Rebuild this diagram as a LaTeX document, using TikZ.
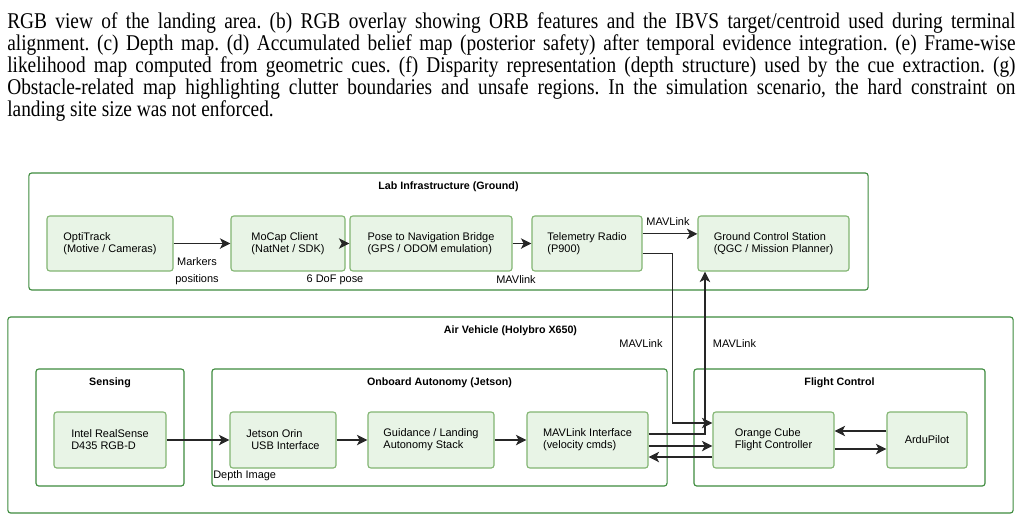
\documentclass[tikz,border=0pt]{standalone}
\usepackage{fontspec}
\setmainfont{Liberation Sans}
\newfontfamily\captionserif[FakeStretch=0.86]{Liberation Serif}
\usetikzlibrary{arrows.meta, positioning}
\definecolor{boxfill}{HTML}{E8F4E6}
\definecolor{boxline}{HTML}{82B572}
\definecolor{groupline}{HTML}{3D8B3D}
\definecolor{wire}{HTML}{262626}

\tikzset{
  block/.style={draw=boxline, fill=boxfill, rounded corners=2pt, align=left, inner sep=2pt, line width=0.8pt},
  group/.style={draw=groupline, rounded corners=2pt, inner sep=0pt, line width=0.8pt},
  grouptitle/.style={font=\bfseries\fontsize{7.6}{9}\selectfont, inner sep=0pt},
  lbl/.style={inner sep=0pt},
  link/.style={-{Stealth[length=7.5pt,width=7.5pt,inset=2pt]}, draw=wire, line width=0.8pt},
}

\begin{document}
\frenchspacing
\begin{tikzpicture}[x=0.025cm, y=-0.025cm, font=\fontsize{7.8}{8.6}\selectfont]
  \useasboundingbox (0,0) rectangle (1020,521);

  % caption text above the figure
  \node[anchor=north west, inner sep=0pt, text width=25.2cm, align=justify,
        font=\captionserif\fontsize{16}{15.65}\selectfont] (caption) at (7,12)
  {RGB view of the landing area. (b) RGB overlay showing ORB features and the IBVS target/centroid used during terminal\linebreak
   alignment. (c) Depth map. (d) Accumulated belief map (posterior safety) after temporal evidence integration. (e) Frame-wise\linebreak
   likelihood map computed from geometric cues. (f) Disparity representation (depth structure) used by the cue extraction. (g)\linebreak
   Obstacle-related map highlighting clutter boundaries and unsafe regions. In the simulation scenario, the hard constraint on\linebreak
   landing site size was not enforced.};

  % groups
  \node[group, minimum width=20.975cm, minimum height=2.925cm] (lab) at (448.5,231.5) {};
  \node[group, minimum width=25.125cm, minimum height=4.9cm] (air) at (510.5,415) {};
  \node[group, minimum width=3.7cm, minimum height=2.925cm] (sensing) at (110,427.5) {};
  \node[group, minimum width=11.375cm, minimum height=2.925cm] (onboard) at (439.5,427.5) {};
  \node[group, minimum width=7.275cm, minimum height=2.925cm] (flight) at (839.5,427.5) {};
  \node[grouptitle] at ([yshift=-0.35cm]lab.north) {Lab Infrastructure (Ground)};
  \node[grouptitle] at ([yshift=-0.35cm]air.north) {Air Vehicle (Holybro X650)};
  \node[grouptitle] at ([yshift=-0.35cm]sensing.north) {Sensing};
  \node[grouptitle] at ([yshift=-0.35cm]onboard.north) {Onboard Autonomy (Jetson)};
  \node[grouptitle] at ([yshift=-0.35cm]flight.north) {Flight Control};

  % ground row
  \node[block, minimum width=3.15cm, minimum height=1.375cm] (opti) at (110,243.5) {OptiTrack\\(Motive / Cameras)};
  \node[block, minimum width=2.85cm, minimum height=1.375cm] (mocap) at (288,243.5) {MoCap Client\\(NatNet / SDK)};
  \node[block, minimum width=4.05cm, minimum height=1.375cm] (bridge) at (431,243.5) {Pose to Navigation Bridge\\(GPS / ODOM emulation)};
  \node[block, minimum width=2.75cm, minimum height=1.375cm] (radio) at (587,243.5) {Telemetry Radio\\(P900)};
  \node[block, minimum width=3.775cm, minimum height=1.375cm] (gcs) at (773.5,243.5) {Ground Control Station\\(QGC / Mission Planner)};

  % vehicle row
  \node[block, minimum width=2.8cm, minimum height=1.4cm] (realsense) at (110,440) {Intel RealSense\\D435 RGB-D};
  \node[block, minimum width=2.65cm, minimum height=1.4cm] (jetson) at (283,440) {Jetson Orin\\\hspace{3.5pt}USB Interface};
  \node[block, minimum width=3.15cm, minimum height=1.4cm] (guidance) at (431,440) {Guidance / Landing\\Autonomy Stack};
  \node[block, minimum width=3.025cm, minimum height=1.4cm] (mavif) at (587.5,440) {MAVLink Interface\\(velocity cmds)};
  \node[block, minimum width=3.025cm, minimum height=1.4cm] (cube) at (773.5,440) {Orange Cube\\Flight Controller};
  \node[block, minimum width=2cm, minimum height=1.4cm, align=center] (ardu) at (927,440) {ArduPilot};

  % links
  \draw[link] (opti) -- (mocap);
  \draw[link] (mocap) -- (bridge);
  \draw[link] (bridge) -- (radio);
  \draw[link] ([yshift=0.24cm]radio.east) -- ([yshift=0.24cm]radio.east -| gcs.west);
  \draw[link] ([yshift=-0.24cm]radio.east) -| ([xshift=-1cm,yshift=0.425cm]cube.west) -- ([yshift=0.425cm]cube.west);
  \draw[link] ([yshift=0.15cm]mavif.east) -| ([xshift=-1.7125cm]gcs.south);
  \draw[link] (realsense) -- (jetson);
  \draw[link] (jetson) -- (guidance);
  \draw[link] (guidance) -- (mavif);
  \draw[link] ([yshift=-0.15cm]mavif.east) -- ([yshift=-0.15cm]cube.west);
  \draw[link] ([yshift=-0.425cm]cube.west) -- ([yshift=-0.425cm]mavif.east);
  \draw[link] ([yshift=-0.225cm]cube.east) -- ([yshift=-0.225cm]ardu.west);
  \draw[link] ([yshift=0.225cm]ardu.west) -- ([yshift=0.225cm]cube.east);

  % link labels
  \node[lbl, align=center] (markers) at (197,271.5) {Markers\\[3.5pt]positions};
  \node[lbl] (posetxt) at (335,280) {6 DoF pose};
  \node[lbl] (bridgetxt) at (516,280) {MAVlink};
  \node[lbl] (radiotxt) at (668,222) {MAVLink};
  \node[lbl] (uptxt) at (641,344) {MAVLink};
  \node[lbl] (downtxt) at (734.5,344) {MAVLink};
  \node[lbl, anchor=west] (depthtxt) at (213,476) {Depth Image};
\end{tikzpicture}
\end{document}
